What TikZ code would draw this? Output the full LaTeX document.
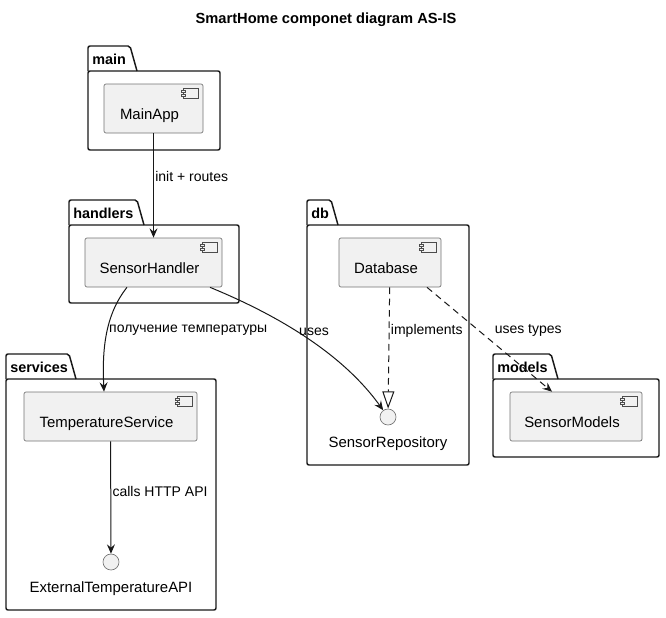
\documentclass[tikz,border=0pt]{standalone}
\usepackage{fontspec}
\setmainfont{Liberation Sans}
\usetikzlibrary{arrows.meta,calc}

\definecolor{lineclr}{HTML}{181818}
\definecolor{compfill}{HTML}{F1F1F1}

\tikzset{
  comp/.style={draw=black!55, fill=compfill, rounded corners=1.5pt, line width=0.5pt,
    minimum height=36.75pt, text height=17pt, text depth=0pt, font=\fontsize{11.2}{13}\selectfont,
    execute at end node={\hspace{6pt}}},
  iconline/.style={draw=black!70, fill=compfill, line width=0.5pt},
  iface/.style={circle, draw=black!55, fill=compfill, line width=0.5pt, minimum size=12pt, inner sep=0pt},
  ifacelbl/.style={font=\fontsize{11.2}{13}\selectfont},
  lbl/.style={font=\fontsize{10.5}{12}\selectfont, inner sep=1pt},
  pkgline/.style={draw=lineclr, line width=1.1pt, rounded corners=1.5pt},
  pkglbl/.style={font=\bfseries\fontsize{10.8}{13}\selectfont, inner sep=0pt},
  arr/.style={draw=lineclr, line width=0.75pt, -{Stealth[length=7pt, width=6pt, inset=2.5pt]}},
  dep/.style={arr, dash pattern=on 5pt off 3.5pt},
  real/.style={draw=lineclr, line width=0.75pt, dash pattern=on 5pt off 3.5pt,
    -{Triangle[open, length=13pt, width=9pt]}},
}

% package frame: name, label, x1, y top of tab, x end of tab, x2, y2
\newcommand{\pkgframe}[7]{%
  \draw[pkgline] ({#3},{#4+25}) -- ({#3},{#4}) -- ({#5-7},{#4}) -- ({#5},{#4+25});
  \draw[pkgline] ({#3},{#4+25}) rectangle ({#6},{#7});
  \node[pkglbl, anchor=west] (#1) at ({#3+4},{#4+13}) {#2};
}

% component icon in the top right corner of a node
\newcommand{\compicon}[1]{%
  \draw[iconline] ($(#1.north east)+(-20,5)$) rectangle ++(15,10);
  \draw[iconline] ($(#1.north east)+(-22,7)$) rectangle ++(4,2);
  \draw[iconline] ($(#1.north east)+(-22,11)$) rectangle ++(4,2);
}

\begin{document}
\begin{tikzpicture}[x=0.75pt, y=-0.75pt]
  \useasboundingbox (0,0) rectangle (666,617);
  \node[font=\bfseries\fontsize{11}{13}\selectfont] (title) at (326,20) {SmartHome componet diagram AS-IS};

  % packages
  \pkgframe{main}{main}{88}{46}{137}{220}{150}
  \pkgframe{handlers}{handlers}{69}{200}{144}{239}{303}
  \pkgframe{db}{db}{307}{200}{338}{469}{465}
  \pkgframe{models}{models}{493}{354}{558}{659}{457}
  \pkgframe{services}{services}{6}{354}{76}{216}{610}

  % components
  \node[comp, minimum width=74.25pt] (mainapp) at (153.5,108.5) {MainApp};
  \node[comp, minimum width=102.75pt] (handler) at (153.5,262.5) {SensorHandler};
  \node[comp, minimum width=76.5pt] (database) at (390,262.5) {Database};
  \node[comp, minimum width=99pt] (sensormodels) at (576,416.5) {SensorModels};
  \node[comp, minimum width=129.75pt] (tempservice) at (110.5,416.5) {TemperatureService};
  \foreach \c in {mainapp,handler,database,sensormodels,tempservice} \compicon{\c};

  % interfaces
  \node[iface] (sensorrepo) at (388,417) {};
  \node[ifacelbl] (sensorrepolbl) at (388,444) {SensorRepository};
  \node[iface] (extapi) at (111,562) {};
  \node[ifacelbl] (extapilbl) at (111,589) {ExternalTemperatureAPI};

  % connectors
  \draw[arr] (mainapp) -- (handler) node[lbl, pos=0.41, anchor=west] {init + routes};
  \draw[arr] ($(handler.south)+(-26.5,0)$) .. controls (105,315) and (102,350) .. ($(tempservice.north)+(-6.5,0)$)
    node[lbl, pos=0.46, anchor=west] {получение температуры};
  \draw[arr] ($(handler.south)+(56.5,0)$) .. controls (270,312) and (340,350) .. (sensorrepo)
    node[lbl, pos=0.47, anchor=west] {uses};
  \draw[real] (database) -- (sensorrepo) node[lbl, pos=0.36, anchor=west] {implements};
  \draw[dep] ($(database.south)+(37,0)$) -- ($(sensormodels.north)+(-24,0)$)
    node[lbl, pos=0.41, anchor=west, xshift=11pt] {uses types};
  \draw[arr] (tempservice) -- (extapi) node[lbl, pos=0.45, anchor=west] {calls HTTP API};
\end{tikzpicture}
\end{document}
